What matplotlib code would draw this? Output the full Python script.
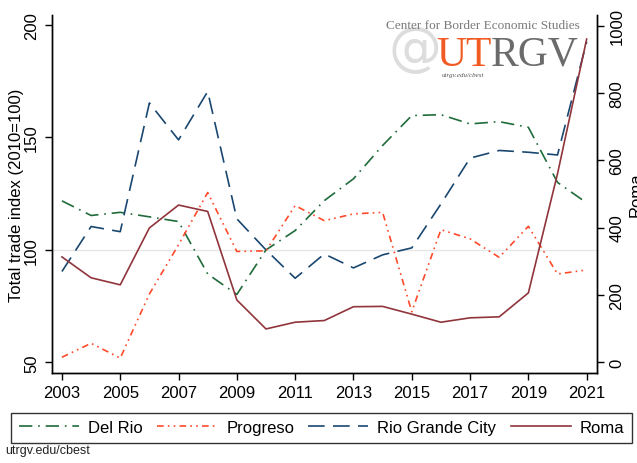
import matplotlib
matplotlib.use("Agg")
import matplotlib.pyplot as plt

plt.rcParams['font.family'] = ['Liberation Sans', 'DejaVu Sans']

years = list(range(2003, 2022))
del_rio = [121.8, 115.3, 116.7, 114.7, 112.6, 89.3, 80.2, 100.0, 108.6, 121.9,
           131.6, 146.4, 159.7, 160.1, 156.0, 157.0, 154.5, 130.0, 120.9]
progreso = [52.3, 58.5, 51.9, 80.4, 102.3, 125.5, 99.3, 99.6, 119.7, 113.0,
            116.0, 116.7, 72.5, 109.0, 104.9, 96.7, 110.5, 89.3, 91.1]
rio_grande = [90.4, 110.4, 108.1, 165.3, 148.9, 170.4, 113.8, 100.0, 87.4, 98.2,
              92.0, 97.8, 100.9, 120.4, 140.8, 144.2, 143.4, 142.2, 192.5]
roma = [313, 251, 230, 399, 467, 448, 185, 99, 119, 124,
        165, 166, 143, 119, 132, 135, 206, 560, 960]

left_ticks = [50, 100, 150, 200]
right_ticks = [0, 200, 400, 600, 800, 1000]
x_ticks = list(range(2003, 2022, 2))

c_delrio = '#1f6b3a'
c_prog = '#ff4a2a'
c_rgc = '#1a476f'
c_roma = '#90353b'

fig = plt.figure(figsize=(6.37, 4.64), dpi=100)
ax = fig.add_axes([0.0812, 0.194, 0.8558, 0.7715])
ax2 = ax.twinx()

ax.axhline(100, color='#e6e6e6', lw=1.0, zorder=0)

l1, = ax.plot(years, del_rio, color=c_delrio, lw=1.2, dashes=(8, 3.5, 1, 3.5), label='Del Rio')
l2, = ax.plot(years, progreso, color=c_prog, lw=1.2, dashes=(4, 2.5, 1, 2.5, 1, 2.5), label='Progreso')
l3, = ax.plot(years, rio_grande, color=c_rgc, lw=1.2, dashes=(10, 5), label='Rio Grande City')
l4, = ax2.plot(years, roma, color=c_roma, lw=1.2, label='Roma')

ax.set_xlim(2002.65, 2021.35)
ax.set_ylim(45.3, 204.4)
ax2.set_ylim(-31.8, 1031.5)

ax.set_xticks(x_ticks)
ax.set_yticks(left_ticks)
ax2.set_yticks(right_ticks)

for a in (ax, ax2):
    a.spines['top'].set_visible(False)
    for s in a.spines.values():
        s.set_linewidth(1.0)
ax.tick_params(axis='x', labelsize=12, length=5, width=1.0, pad=4)
ax.tick_params(axis='y', labelsize=12, length=5, width=1.0, pad=4)
ax2.tick_params(axis='y', labelsize=12, length=5, width=1.0, pad=4)
for t in ax.get_yticklabels():
    t.set_rotation(90)
    t.set_va('center')
for t in ax2.get_yticklabels():
    t.set_rotation(90)
    t.set_va('center')

ax.set_ylabel('Total trade index (2010=100)', fontsize=12, labelpad=0)
ax2.set_ylabel('Roma', fontsize=12, labelpad=3)

leg = fig.legend([l1, l2, l3, l4], ['Del Rio', 'Progreso', 'Rio Grande City', 'Roma'],
                 loc='center', bbox_to_anchor=(0.505, 0.0765), ncol=4, fontsize=12,
                 handlelength=3.6, columnspacing=0.85, handletextpad=0.55,
                 frameon=True, fancybox=False, edgecolor='black', borderpad=0.45,
                 borderaxespad=0)
leg.get_frame().set_linewidth(1.0)

fig.text(0.008, 0.015, 'utrgv.edu/cbest', fontsize=9, color='#222222', ha='left', va='bottom')

# logo
fig.text(0.758, 0.945, 'Center for Border Economic Studies', fontsize=9.5,
         family='Liberation Serif', color='#7a7a7a', ha='center', va='center')
fig.text(0.652, 0.893, '@', fontsize=38, color='#dddddd', ha='center', va='center',
         family='DejaVu Sans', zorder=0)
fig.text(0.684, 0.858, 'UT', fontsize=30, color='#f15a22', ha='left', va='baseline',
         family='Liberation Serif')
fig.text(0.770, 0.858, 'RGV', fontsize=30, color='#6b6b6b', ha='left', va='baseline',
         family='Liberation Serif')
fig.text(0.726, 0.843, 'utrgv.edu/cbest', fontsize=5, color='#555555', ha='center',
         va='top', family='Liberation Serif', style='italic')

fig.savefig('out.png', dpi=100)
